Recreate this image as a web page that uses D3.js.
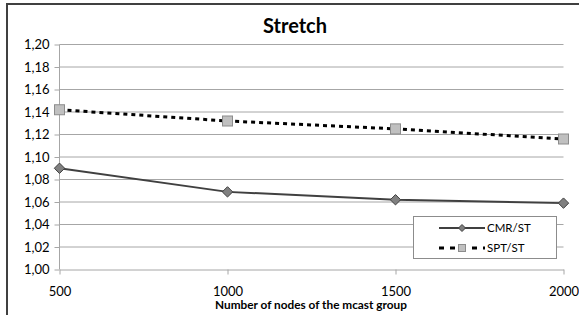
<!DOCTYPE html>
<html><head><meta charset="utf-8">
<script src="https://cdn.jsdelivr.net/npm/d3@7/dist/d3.min.js"></script>
<style>body{margin:0;background:#fff}svg{display:block}text{font-family:Lato,"Open Sans",sans-serif}</style>
</head><body>
<script>
const categories = [500, 1000, 1500, 2000];
const cmrValues = [1.090, 1.069, 1.062, 1.059];
const sptValues = [1.142, 1.132, 1.125, 1.116];
const yTicks = [1.00, 1.02, 1.04, 1.06, 1.08, 1.10, 1.12, 1.14, 1.16, 1.18, 1.20];
const seriesNames = ["CMR/ST", "SPT/ST"];

const W = 579, H = 315;
const svg = d3.select("body").append("svg").attr("width", W).attr("height", H);
// outer frame (left + top)
svg.append("path").attr("d", `M7,315 V4 H579`).attr("fill","none").attr("stroke","#404040").attr("stroke-width",2);

const x = d3.scalePoint().domain(categories).range([59.5, 563.5]);
const y = d3.scaleLinear().domain([1.00, 1.20]).range([269.5, 44.5]);

// gridlines
svg.append("g").selectAll("line").data(yTicks.slice(1)).join("line")
  .attr("x1", 59.5).attr("x2", 563.5).attr("y1", d=>y(d)).attr("y2", d=>y(d))
  .attr("stroke","#a6a6a6").attr("stroke-width",1);

// y axis
const yAxis = svg.append("g").attr("transform","translate(59.5,0)")
  .call(d3.axisLeft(y).tickValues(yTicks).tickSize(5).tickFormat(d=>d3.format(".2f")(d).replace(".",",")));
yAxis.select(".domain").attr("stroke","#a6a6a6").attr("d","M0,44.5V269.5");
yAxis.selectAll(".tick line").attr("stroke","#a6a6a6");
yAxis.selectAll("text").attr("font-size",13).attr("fill","#000").attr("x",-10).attr("font-family","Lato,sans-serif");

// x axis
const xAxis = svg.append("g").attr("transform","translate(0,269.5)")
  .call(d3.axisBottom(x).tickSize(5).tickSizeOuter(0));
xAxis.select(".domain").attr("stroke","#a6a6a6");
xAxis.selectAll(".tick line").attr("stroke","#a6a6a6");
xAxis.selectAll("text").attr("font-size",13).attr("fill","#000").attr("y",17).attr("font-family","Lato,sans-serif");

// titles
svg.append("text").attr("x",295).attr("y",33).attr("text-anchor","middle")
  .attr("font-size",20).attr("font-weight","bold").text("Stretch");
svg.append("text").attr("x",311).attr("y",309).attr("text-anchor","middle")
  .attr("font-family","'Open Sans',sans-serif")
  .attr("font-size",11.8).attr("font-weight","bold").text("Number of nodes of the mcast group");

const line = d3.line().x((d,i)=>x(categories[i])).y(d=>y(d));
svg.append("path").datum(cmrValues).attr("d",line).attr("fill","none").attr("stroke","#404040").attr("stroke-width",2);
svg.append("path").datum(sptValues).attr("d",line).attr("fill","none").attr("stroke","#000").attr("stroke-width",3).attr("stroke-dasharray","4,4");

const diamond = (cx,cy,r)=>`M${cx},${cy-r}L${cx+r},${cy}L${cx},${cy+r}L${cx-r},${cy}Z`;
svg.append("g").selectAll("path").data(cmrValues).join("path")
  .attr("d",(d,i)=>diamond(x(categories[i]), y(d), 5.2))
  .attr("fill","#808080").attr("stroke","#404040").attr("stroke-width",1);
svg.append("g").selectAll("rect").data(sptValues).join("rect")
  .attr("x",(d,i)=>x(categories[i])-5).attr("y",d=>y(d)-5).attr("width",10).attr("height",10)
  .attr("fill","#c0c0c0").attr("stroke","#8c8c8c").attr("stroke-width",1);

// legend
const lg = svg.append("g");
lg.append("rect").attr("x",413.5).attr("y",216.5).attr("width",143).attr("height",42)
  .attr("fill","#fff").attr("stroke","#8c8c8c").attr("stroke-width",1);
lg.append("line").attr("x1",439).attr("x2",485).attr("y1",228).attr("y2",228).attr("stroke","#404040").attr("stroke-width",2);
lg.append("path").attr("d",diamond(462,228,3.5)).attr("fill","#808080").attr("stroke","#404040");
lg.append("line").attr("x1",439).attr("x2",485).attr("y1",248).attr("y2",248).attr("stroke","#000").attr("stroke-width",3).attr("stroke-dasharray","5,6");
lg.append("rect").attr("x",458.5).attr("y",244.5).attr("width",7).attr("height",7).attr("fill","#c0c0c0").attr("stroke","#8c8c8c");
lg.selectAll("text.l").data(seriesNames).join("text").attr("x",487).attr("y",(d,i)=>232+i*20)
  .attr("font-size",11.5).text(d=>d);
</script>
</body></html>
